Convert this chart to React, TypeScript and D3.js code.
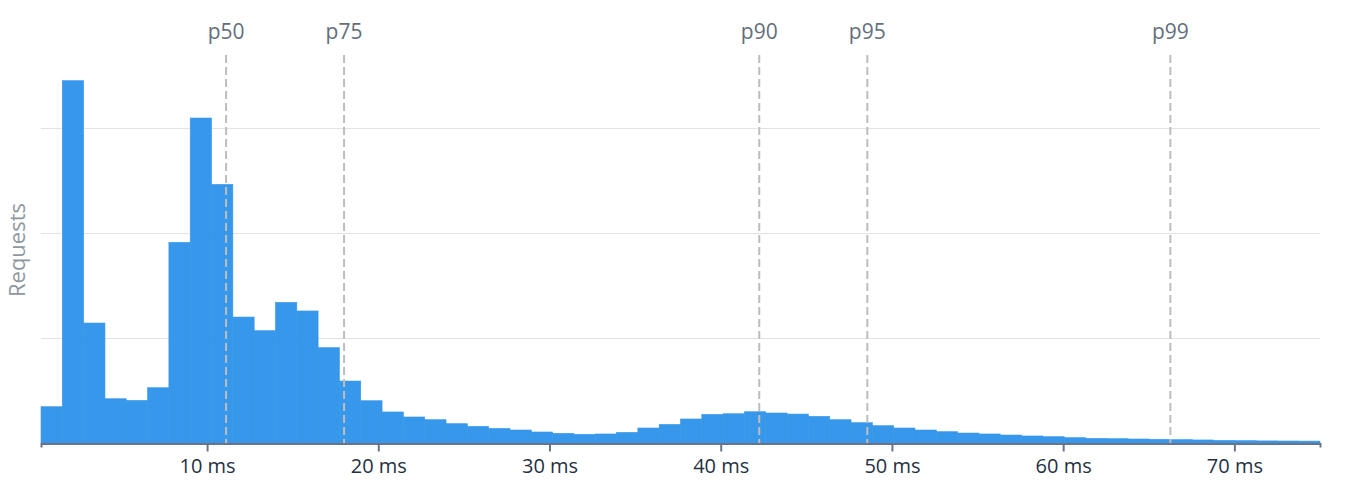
import React, { useEffect, useRef } from "react";
import * as d3 from "d3";

// Histogram of request latencies (ms)
const X_MIN_MS = 0.3;
const X_MAX_MS = 75;
const binCounts: number[] = [
  346, 3455, 1144, 422, 406, 527, 1913, 3099, 2466, 1201,
  1071, 1341, 1259, 909, 591, 403, 296, 248, 222, 184,
  158, 139, 124, 105, 92, 82, 86, 101, 143, 177,
  229, 273, 279, 298, 286, 276, 254, 222, 194, 165,
  143, 124, 108, 95, 86, 76, 67, 60, 51, 44,
  41, 38, 35, 32, 29, 25, 22, 20, 19, 18,
];
const percentileNames: string[] = ["p50", "p75", "p90", "p95", "p99"];
const percentileValues: number[] = [11.11, 18.0, 42.25, 48.56, 66.26];
const xTickValues: number[] = [10, 20, 30, 40, 50, 60, 70];
const yGridValues: number[] = [1000, 2000, 3000];
const Y_MAX = 3700;

const W = 1351;
const H = 499;
const M = { left: 41, right: 31, top: 55, bottom: 56 };
const FONT = "'Open Sans', 'Noto Sans', sans-serif";

export default function App() {
  const axisRef = useRef<SVGGElement>(null);

  const x = d3.scaleLinear().domain([X_MIN_MS, X_MAX_MS]).range([M.left, W - M.right]);
  const y = d3.scaleLinear().domain([0, Y_MAX]).range([H - M.bottom, M.top]);
  const binW = (X_MAX_MS - X_MIN_MS) / binCounts.length;
  const bins = binCounts.map((c, i) => ({
    x0: X_MIN_MS + i * binW,
    x1: X_MIN_MS + (i + 1) * binW,
    c,
  }));

  useEffect(() => {
    if (!axisRef.current) return;
    const g = d3.select(axisRef.current);
    g.selectAll("*").remove();
    g.call(
      d3
        .axisBottom(x)
        .tickValues(xTickValues)
        .tickFormat((d) => `${d} ms`)
        .tickSizeInner(8)
        .tickSizeOuter(4)
        .tickPadding(7)
    );
    g.select(".domain").attr("stroke", "#6b7386").attr("stroke-width", 2);
    g.selectAll(".tick line").attr("stroke", "#6b7386").attr("stroke-width", 2);
    g.selectAll(".tick text")
      .attr("fill", "#25313f")
      .attr("font-size", 20)
      .attr("font-family", FONT);
  }, []);

  const y0 = y(0);

  return (
    <div style={{ position: "absolute", left: 0, top: 0 }}>
      <svg width={W} height={H} style={{ display: "block", background: "#fff" }}>
        <g>
          {yGridValues.map((v) => (
            <line
              key={v}
              x1={M.left}
              x2={W - M.right}
              y1={Math.round(y(v)) + 0.5}
              y2={Math.round(y(v)) + 0.5}
              stroke="#e3e3e3"
              strokeWidth={1}
            />
          ))}
        </g>
        <g>
          {bins.map((b, i) => (
            <rect
              key={i}
              x={x(b.x0)}
              width={x(b.x1) - x(b.x0)}
              y={y(b.c)}
              height={y0 - y(b.c)}
              fill="#3797ea"
              stroke="#3797ea"
              strokeWidth={0.6}
            />
          ))}
        </g>
        <g>
          {percentileValues.map((p, i) => (
            <g key={percentileNames[i]}>
              <line
                x1={x(p)}
                x2={x(p)}
                y1={M.top}
                y2={y0}
                stroke="#bdbdbd"
                strokeWidth={2}
                strokeDasharray="8,4"
              />
              <text
                x={x(p)}
                y={39}
                textAnchor="middle"
                fontFamily={FONT}
                fontSize={21}
                fill="#636e7b"
              >
                {percentileNames[i]}
              </text>
            </g>
          ))}
        </g>
        <g ref={axisRef} transform={`translate(0,${y0 + 0.5})`} />
        <text
          transform={`translate(24.5,250) rotate(-90)`}
          textAnchor="middle"
          fontFamily={FONT}
          fontSize={22}
          fill="#8e979f"
        >
          Requests
        </text>
      </svg>
    </div>
  );
}
